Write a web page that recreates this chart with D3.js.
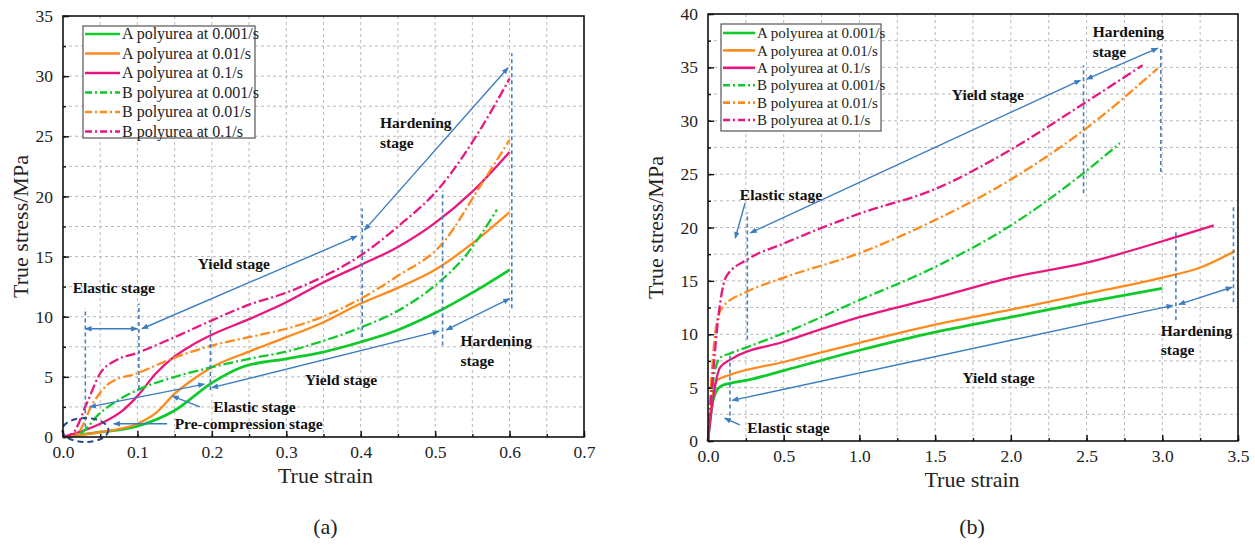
<!DOCTYPE html>
<html>
<head>
<meta charset="utf-8">
<script src="https://cdn.jsdelivr.net/npm/d3@7"></script>
<style>
  body { margin: 0; background: #fff; }
  svg text { font-family: "Liberation Serif", "Times New Roman", serif; }
</style>
</head>
<body>
<svg id="chart" width="1255" height="548"></svg>
<script>
/* legend names, same order for both panels */
const seriesNames = ['A polyurea at 0.001/s', 'A polyurea at 0.01/s', 'A polyurea at 0.1/s',
  'B polyurea at 0.001/s', 'B polyurea at 0.01/s', 'B polyurea at 0.1/s']

/* panel (a): [true strain, true stress MPa] */
const aA001 = [[0,0],[0.05,0.4],[0.1,0.9],[0.15,2.2],[0.2,4.5],[0.24,5.8],[0.3,6.5],[0.345,7.0],[0.4,7.9],[0.45,8.9],[0.5,10.3],[0.55,12.0],[0.6,13.9]]
const aA01 = [[0,0],[0.05,0.4],[0.1,1.1],[0.125,2.0],[0.15,3.6],[0.175,4.8],[0.2,5.8],[0.25,7.1],[0.3,8.3],[0.345,9.4],[0.4,11.1],[0.45,12.4],[0.5,13.9],[0.55,16.1],[0.6,18.7]]
const aA1 = [[0,0],[0.05,1.1],[0.08,2.2],[0.1,3.4],[0.125,5.3],[0.15,6.7],[0.175,7.7],[0.2,8.5],[0.25,9.8],[0.3,11.2],[0.345,12.7],[0.4,14.3],[0.45,15.8],[0.5,17.8],[0.55,20.4],[0.6,23.7]]
const aB001 = [[0,0],[0.023,0.3],[0.05,2.0],[0.075,3.1],[0.1,3.9],[0.15,5.0],[0.2,5.8],[0.25,6.5],[0.3,7.1],[0.345,7.9],[0.4,9.1],[0.45,10.5],[0.5,12.6],[0.54,15.0],[0.583,18.9]]
const aB01 = [[0,0],[0.019,0.3],[0.04,2.8],[0.063,4.5],[0.1,5.3],[0.15,6.6],[0.2,7.6],[0.25,8.3],[0.3,9.0],[0.345,9.9],[0.4,11.5],[0.45,13.4],[0.51,16.1],[0.56,20.8],[0.6,24.7]]
const aB1 = [[0,0],[0.013,0.3],[0.032,2.8],[0.05,5.3],[0.072,6.4],[0.1,7.0],[0.15,8.3],[0.2,9.7],[0.25,11.0],[0.3,12.0],[0.345,13.2],[0.4,15.1],[0.45,17.5],[0.507,20.8],[0.56,25.5],[0.6,29.8]]

/* panel (b) */
const bA001 = [[0,0],[0.033,3.8],[0.08,5.1],[0.145,5.4],[0.26,5.7],[0.5,6.6],[1.0,8.5],[1.5,10.2],[2.0,11.6],[2.5,13.0],[3.0,14.3]]
const bA01 = [[0,0],[0.013,2.2],[0.06,5.7],[0.145,6.2],[0.5,7.4],[1.0,9.2],[1.5,10.9],[2.0,12.3],[2.5,13.8],[3.0,15.3],[3.26,16.3],[3.48,17.8]]
const bA1 = [[0,0],[0.026,3.2],[0.08,6.9],[0.145,7.6],[0.5,9.3],[1.0,11.6],[1.5,13.4],[2.0,15.3],[2.5,16.7],[3.09,19.1],[3.34,20.2]]
const bB001 = [[0,0],[0.013,2.6],[0.046,6.6],[0.08,7.8],[0.145,8.2],[0.26,8.8],[0.5,10.1],[1.0,13.2],[1.5,16.3],[2.0,20.2],[2.48,25.1],[2.72,27.9]]
const bB01 = [[0,0],[0.026,6.6],[0.06,11.3],[0.1,12.6],[0.26,14.0],[0.5,15.3],[1.0,17.6],[1.5,20.7],[2.0,24.5],[2.48,29.1],[2.97,34.9]]
const bB1 = [[0,0],[0.035,6.6],[0.08,12.9],[0.12,15.4],[0.26,17.0],[0.5,18.5],[1.0,21.3],[1.5,23.6],[2.0,27.3],[2.48,31.6],[2.87,35.2]]

/* stage annotations, in data units */
const aDoubleArrows = [[[0.03,9.0],[0.1,9.0]], [[0.106,9.0],[0.395,16.7]], [[0.405,17.2],[0.598,30.7]],
  [[0.036,2.5],[0.19,4.4]], [[0.2,4.1],[0.505,8.8]], [[0.515,8.9],[0.6,11.5]]]
const aPointers = [[[0.14,1.1],[0.068,1.1]], [[0.184,2.5],[0.147,3.4]]]
const aGuides = [[0.03,0.8,10.7], [0.102,4.0,11.1], [0.198,3.9,9.3], [0.402,8.3,19.0], [0.51,7.6,20.5], [0.603,10.7,31.9]]
const aLabels = [[0.013,12.0,'Elastic stage'], [0.181,14.0,'Yield stage'], [0.426,25.7,'Hardening'], [0.426,24.0,'stage'],
  [0.202,2.1,'Elastic stage'], [0.15,0.7,'Pre-compression stage'], [0.325,4.3,'Yield stage'],
  [0.534,7.6,'Hardening'], [0.534,5.9,'stage']]

const bDoubleArrows = [[[0.28,19.5],[2.46,33.8]], [[2.5,33.9],[2.97,36.8]], [[0.16,3.8],[3.07,12.7]], [[3.11,12.8],[3.46,14.4]]]
const bPointers = [[[0.245,22.3],[0.18,19.0]], [[0.21,1.5],[0.11,2.15]]]
const bGuides = [[0.26,9.5,21.4], [0.145,2.4,8.1], [2.48,23.2,35.2], [2.99,25.2,36.9], [3.09,11.3,19.6], [3.47,13.0,22.1]]
const bLabels = [[0.21,22.6,'Elastic stage'], [1.61,31.9,'Yield stage'], [2.54,37.8,'Hardening'], [2.54,36.0,'stage'],
  [0.26,0.75,'Elastic stage'], [1.68,5.4,'Yield stage'], [2.99,9.8,'Hardening'], [2.99,8.1,'stage']]

const colors = ['#0fca2a', '#ff8a1c', '#e8177f', '#0fca2a', '#ff8a1c', '#e8177f']
const dashes = [null, null, null, '10,3,2,3', '10,3,2,3', '10,3,2,3']
const blue = '#3c7dc2'
const serif = '"Liberation Serif", "Times New Roman", serif'

const svg = d3.select('#chart')
svg.append('rect').attr('width', 1255).attr('height', 548).attr('fill', '#fff')

/* arrowhead marker */
svg.append('defs').append('marker')
    .attr('id', 'head')
    .attr('viewBox', '0 0 10 10')
    .attr('refX', 9).attr('refY', 5)
    .attr('markerWidth', 7).attr('markerHeight', 7)
    .attr('markerUnits', 'userSpaceOnUse')
    .attr('orient', 'auto-start-reverse')
  .append('path')
    .attr('d', 'M0,1 L10,5 L0,9 Z')
    .attr('fill', blue)

function drawPanel(p) {
  let g = svg.append('g')
  let x = d3.scaleLinear().domain([0, p.xMax]).range([p.left, p.left + p.width])
  let y = d3.scaleLinear().domain([0, p.yMax]).range([p.top + p.height, p.top])

  let xMinor = d3.range(0, p.xMax + 1e-9, p.xStep / 2)
  let yMinor = d3.range(0, p.yMax + 1e-9, 2.5)

  /* dashed grid */
  let grid = g.append('g')
  grid.append('g').selectAll('line').data(xMinor.slice(1, -1)).join('line')
    .attr('x1', d => x(d)).attr('x2', d => x(d))
    .attr('y1', p.top).attr('y2', p.top + p.height)
  grid.append('g').selectAll('line').data(yMinor.slice(1, -1)).join('line')
    .attr('x1', p.left).attr('x2', p.left + p.width)
    .attr('y1', d => y(d)).attr('y2', d => y(d))
  grid.selectAll('line').attr('stroke', '#b9b9b9').attr('stroke-width', 1).attr('stroke-dasharray', '3,3')

  /* axes with inward ticks */
  let xAxis = d3.axisBottom(x).tickValues(d3.range(0, p.xMax + 1e-9, p.xStep))
    .tickFormat(d3.format('.1f')).tickSizeInner(-6).tickSizeOuter(0).tickPadding(9)
  let yAxis = d3.axisLeft(y).tickValues(d3.range(0, p.yMax + 1e-9, 5))
    .tickFormat(d3.format('d')).tickSizeInner(-6).tickSizeOuter(0).tickPadding(10)
  let xMinorAxis = d3.axisBottom(x).tickValues(xMinor).tickFormat('').tickSizeInner(-3).tickSizeOuter(0)
  let yMinorAxis = d3.axisLeft(y).tickValues(yMinor).tickFormat('').tickSizeInner(-3).tickSizeOuter(0)

  for (let [axis, t] of [[xAxis, `translate(0,${p.top + p.height})`], [xMinorAxis, `translate(0,${p.top + p.height})`],
                         [yAxis, `translate(${p.left},0)`], [yMinorAxis, `translate(${p.left},0)`]]) {
    let a = g.append('g').attr('transform', t).call(axis).attr('font-family', null)
    a.select('.domain').remove()
    a.selectAll('line').attr('stroke', '#111').attr('stroke-width', 1.4)
    a.selectAll('text').style('font-family', serif).style('font-size', '17.5px').attr('fill', '#222')
  }

  /* curves */
  let line = d3.line().x(d => x(d[0])).y(d => y(d[1])).curve(d3.curveMonotoneX)
  g.append('g').selectAll('path').data(p.series).join('path')
    .attr('d', line)
    .attr('fill', 'none')
    .attr('stroke', (d, i) => colors[i])
    .attr('stroke-width', (d, i) => i === 0 ? 2.8 : 2.3)
    .attr('stroke-dasharray', (d, i) => dashes[i])

  /* dashed guide lines */
  g.append('g').selectAll('line').data(p.guides).join('line')
    .attr('x1', d => x(d[0])).attr('x2', d => x(d[0]))
    .attr('y1', d => y(d[1])).attr('y2', d => y(d[2]))
    .attr('stroke', '#4a7fbd').attr('stroke-width', 1.6).attr('stroke-dasharray', '4,3')

  /* stage arrows */
  g.append('g').selectAll('line').data(p.arrows).join('line')
    .attr('x1', d => x(d[0][0])).attr('y1', d => y(d[0][1]))
    .attr('x2', d => x(d[1][0])).attr('y2', d => y(d[1][1]))
    .attr('stroke', blue).attr('stroke-width', 1.4)
    .attr('marker-start', 'url(#head)').attr('marker-end', 'url(#head)')
  g.append('g').selectAll('line').data(p.pointers).join('line')
    .attr('x1', d => x(d[0][0])).attr('y1', d => y(d[0][1]))
    .attr('x2', d => x(d[1][0])).attr('y2', d => y(d[1][1]))
    .attr('stroke', blue).attr('stroke-width', 1.4)
    .attr('marker-end', 'url(#head)')

  if (p.ellipse) {
    g.append('ellipse')
      .attr('cx', x(p.ellipse[0])).attr('cy', y(p.ellipse[1]))
      .attr('rx', x(p.ellipse[2]) - x(0)).attr('ry', y(0) - y(p.ellipse[3]))
      .attr('fill', 'none').attr('stroke', '#274a80').attr('stroke-width', 2).attr('stroke-dasharray', '6,4')
  }

  /* stage labels */
  g.append('g').selectAll('text').data(p.labels).join('text')
    .attr('x', d => x(d[0])).attr('y', d => y(d[1]))
    .style('font-size', '15.5px').attr('font-weight', 'bold').attr('fill', '#111')
    .text(d => d[2])

  /* frame */
  g.append('rect')
    .attr('x', p.left).attr('y', p.top).attr('width', p.width).attr('height', p.height)
    .attr('fill', 'none').attr('stroke', '#111').attr('stroke-width', 1.6)

  /* legend */
  let L = p.legend
  let lg = g.append('g').attr('transform', `translate(${p.left + L.dx},${p.top + L.dy})`)
  lg.append('rect').attr('width', L.w).attr('height', L.h)
    .attr('fill', '#fff').attr('stroke', '#555').attr('stroke-width', 1.2)
  let rows = lg.selectAll('g').data(seriesNames).join('g')
    .attr('transform', (d, i) => `translate(0,${L.first + i * L.step})`)
  rows.append('line').attr('x1', 2).attr('x2', L.sample)
    .attr('stroke', (d, i) => colors[i]).attr('stroke-width', 2.6)
    .attr('stroke-dasharray', (d, i) => dashes[i] ? '7,3,2,3' : null)
  rows.append('text').attr('x', L.sample + 2).attr('dy', '0.34em')
    .style('font-size', L.font + 'px').attr('fill', '#222').text(d => d)

  /* axis titles */
  g.append('text')
    .attr('x', p.left + p.width / 2 + p.xTitleShift).attr('y', p.top + p.height + 46)
    .attr('text-anchor', 'middle').style('font-size', '22px').attr('fill', '#222')
    .text('True strain')
  g.append('text')
    .attr('transform', `translate(${p.yTitleX},${p.top + p.height / 2}) rotate(-90)`)
    .attr('dy', '0.35em').attr('text-anchor', 'middle').style('font-size', '22px').attr('fill', '#222')
    .text('True stress/MPa')
  g.append('text')
    .attr('x', p.left + p.width / 2 + p.xTitleShift).attr('y', 534)
    .attr('text-anchor', 'middle').style('font-size', '22px').attr('fill', '#222')
    .text(p.tag)
}

drawPanel({
  left: 63, top: 16, width: 521, height: 421, xMax: 0.7, xStep: 0.1, yMax: 35,
  series: [aA001, aA01, aA1, aB001, aB01, aB1],
  arrows: aDoubleArrows, pointers: aPointers, guides: aGuides, labels: aLabels,
  ellipse: [0.03, 0.58, 0.031, 1.0],
  legend: { dx: 20, dy: 10, w: 172, h: 112, first: 8, step: 19.5, sample: 37, font: 16 },
  xTitleShift: 2, yTitleX: 20, tag: '(a)'
})

drawPanel({
  left: 708, top: 14, width: 530, height: 427, xMax: 3.5, xStep: 0.5, yMax: 40,
  series: [bA001, bA01, bA1, bB001, bB01, bB1],
  arrows: bDoubleArrows, pointers: bPointers, guides: bGuides, labels: bLabels,
  ellipse: null,
  legend: { dx: 13, dy: 10, w: 160, h: 107, first: 9, step: 17.4, sample: 34, font: 15 },
  xTitleShift: -1, yTitleX: 655, tag: '(b)'
})
</script>
</body>
</html>
